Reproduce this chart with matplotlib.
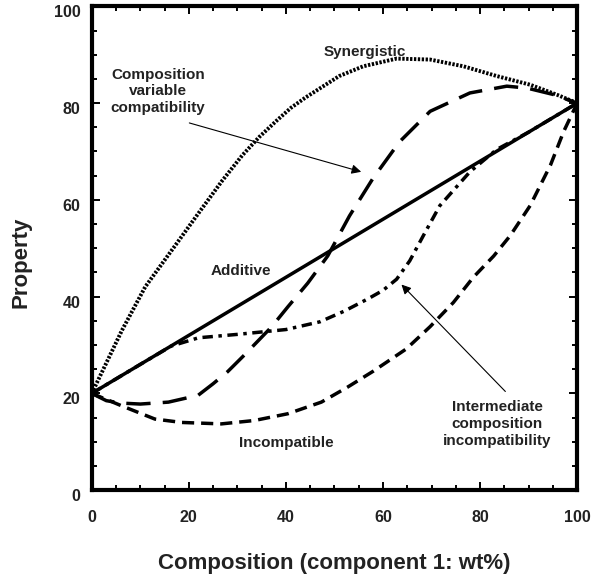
import numpy as np
import matplotlib
matplotlib.use('Agg')
import matplotlib.pyplot as plt
import matplotlib.transforms as mtransforms
from matplotlib.ticker import MultipleLocator

plt.rcParams['font.family'] = ['Liberation Sans', 'DejaVu Sans']
plt.rcParams['font.weight'] = 'bold'

# values (x = wt% of component 1, y = property)
additive_x = [0, 100]
additive_y = [20, 80]

synergistic_x = [0, 6.2, 11, 17.5, 22.1, 26.9, 31, 34.5, 38, 41, 44.1, 51, 55.9, 62.8, 69.7, 76.6, 83.4, 90.3, 95.9, 100]
synergistic_y = [20, 33, 42, 51, 57.4, 64, 69.2, 73, 76.3, 79, 81.2, 85.6, 87.6, 89.2, 89, 87.6, 85.6, 83.8, 81.7, 80]

variable_x = [0, 3, 6, 10, 15.8, 21.9, 25, 28, 31.5, 37, 40.4, 44.5, 48.6, 53.1, 57.9, 63.4, 69.7, 77.9, 85.5, 89.7, 95, 100]
variable_y = [20, 18.5, 18, 17.8, 18.2, 19.6, 22, 24.5, 28, 33.7, 37.9, 42.8, 48.4, 56.7, 64.4, 72, 78.3, 82.1, 83.5, 83.1, 81.8, 80]

intermediate_x = [0, 10, 16.4, 22, 30, 40, 47, 52, 57, 60, 62.8, 65.5, 68.3, 71.7, 77.9, 83.4, 90, 95, 100]
intermediate_y = [20, 26, 29.8, 31.5, 32.2, 33.2, 34.8, 37, 39.6, 41.3, 43.6, 47.4, 52.6, 58.8, 65.8, 70.4, 74, 77, 80]

incompatible_x = [0, 6, 13, 18.5, 26.7, 33.5, 40.4, 47.3, 52.7, 58, 64.8, 69.7, 74.5, 78.6, 82.8, 86.2, 90.3, 94.5, 97.2, 100]
incompatible_y = [20, 17.5, 14.7, 14, 13.7, 14.4, 15.8, 18.2, 21.3, 24.6, 29.2, 33.8, 38.8, 44, 48.4, 52.6, 58.8, 67.2, 74.1, 80]

fig = plt.figure(figsize=(5.92, 5.76), dpi=100)
ax = fig.add_axes([0.155, 0.149, 0.82, 0.84])

lw = 2.5
ax.plot(additive_x, additive_y, color='black', lw=lw, solid_capstyle='round')
ax.plot(synergistic_x, synergistic_y, color='black', lw=2.8, linestyle=(0, (0.6, 0.4)), dash_capstyle='butt')
ax.plot(variable_x, variable_y, color='black', lw=lw, linestyle=(0, (7, 3.5)))
ax.plot(intermediate_x, intermediate_y, color='black', lw=lw, linestyle=(0, (3, 1.6, 1, 1.6)))
ax.plot(incompatible_x, incompatible_y, color='black', lw=lw, linestyle=(0, (3.5, 2)))

txt = dict(fontsize=11, fontweight='bold', color='#222222', ha='center', va='center')
ax.text(56.2, 90.5, 'Synergistic', **txt)
ax.text(13.6, 82.4, 'Composition\nvariable\ncompatibility', linespacing=1.25, **txt)
ax.text(30.8, 45.3, 'Additive', **txt)
ax.text(40, 9.8, 'Incompatible', **txt)
ax.text(83.5, 13.7, 'Intermediate\ncomposition\nincompatibility', linespacing=1.25, **txt)

arrow = dict(arrowstyle='-|>', color='black', lw=0.8, mutation_scale=14, shrinkA=0, shrinkB=0)
ax.annotate('', xy=(55.5, 65.8), xytext=(20.1, 75.9), arrowprops=arrow)
ax.annotate('', xy=(63.8, 42.5), xytext=(85.2, 20.4), arrowprops=arrow)

ax.set_xlim(0, 100)
ax.set_ylim(0, 100)
ax.xaxis.set_major_locator(MultipleLocator(20))
ax.xaxis.set_minor_locator(MultipleLocator(5))
ax.yaxis.set_major_locator(MultipleLocator(20))
ax.yaxis.set_minor_locator(MultipleLocator(5))
ax.tick_params(which='both', direction='in', top=True, right=True, width=1.4, colors='black')
ax.tick_params(which='major', length=6, labelsize=11.5)
ax.tick_params(which='minor', length=3.5)
ax.tick_params(axis='x', which='major', pad=14)
ax.tick_params(axis='y', which='major', pad=8)
shift = mtransforms.ScaledTranslation(0, -5 / 100, fig.dpi_scale_trans)
for lab in ax.get_xticklabels() + ax.get_yticklabels():
    lab.set_fontweight('bold')
    lab.set_color('#222222')
for lab in ax.get_yticklabels():
    lab.set_transform(lab.get_transform() + shift)
for s in ax.spines.values():
    s.set_linewidth(3)

ax.set_xlabel('Composition (component 1: wt%)', fontsize=16, fontweight='bold', color='#222222')
ax.xaxis.label.set_va('center')
ax.xaxis.set_label_coords(0.5, -0.151)
ax.set_ylabel('Property', fontsize=16, fontweight='bold', color='#222222')
ax.yaxis.label.set_va('center')
ax.yaxis.set_label_coords(-0.146, 0.47)

fig.savefig('out.png', dpi=100)
